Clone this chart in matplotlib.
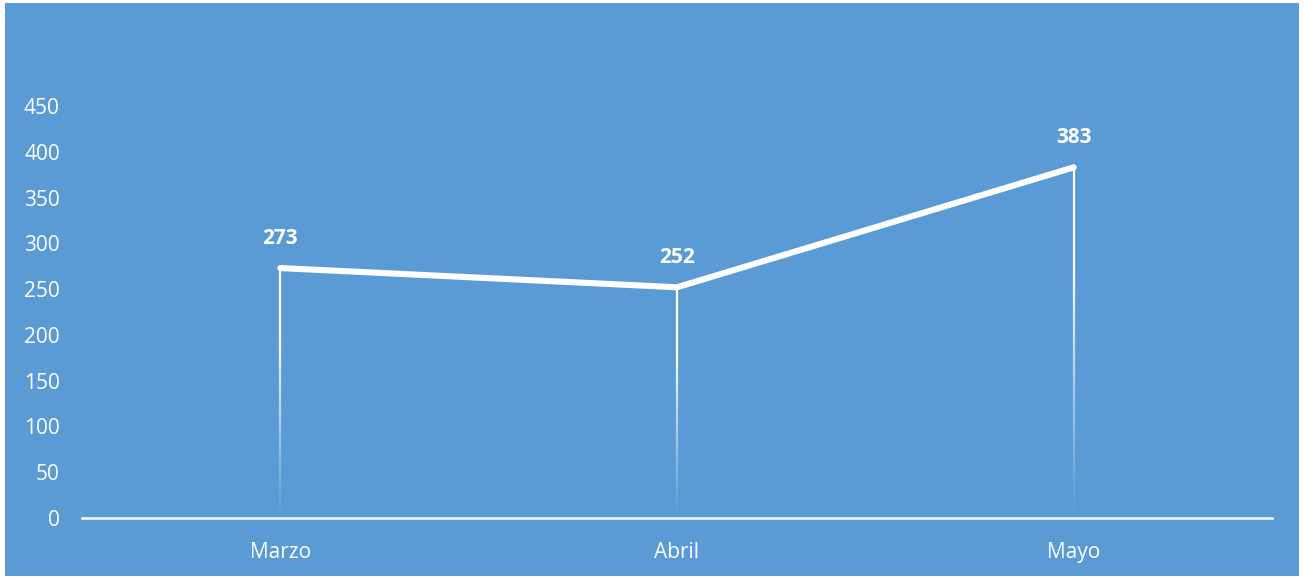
import numpy as np
import matplotlib
matplotlib.use("Agg")
import matplotlib.pyplot as plt
from matplotlib.collections import LineCollection
from matplotlib.patches import Rectangle

categories = ["Marzo", "Abril", "Mayo"]
values = [273, 252, 383]
yticks = [0, 50, 100, 150, 200, 250, 300, 350, 400, 450]

BG = "#5B9BD5"
plt.rcParams['font.family'] = ['Open Sans', 'DejaVu Sans']

fig = plt.figure(figsize=(13.04, 5.79), dpi=100, facecolor="white")
fig.patches.append(Rectangle((5/1304, 3/579), 1294/1304, 573/579, transform=fig.transFigure,
                             facecolor=BG, edgecolor="none", zorder=-10))
ax = fig.add_axes([82/1304, (579-518)/579, (1272-82)/1304, (518-106)/579])
ax.set_facecolor(BG)
ax.patch.set_alpha(0)
x = np.arange(len(categories)) + 0.5
ax.set_xlim(0, len(categories))
ax.set_ylim(0, 450)

# drop lines with fading gradient
for xi, v in zip(x, values):
    n = 120
    ys = np.linspace(0, v, n + 1)
    segs = [[(xi, ys[i]), (xi, ys[i + 1])] for i in range(n)]
    alphas = np.clip((ys[:-1] / v) * 1.4, 0, 1) ** 1.1
    cols = [(1, 1, 1, a) for a in alphas]
    ax.add_collection(LineCollection(segs, colors=cols, linewidths=1.6, zorder=2))

ax.plot(x, values, color="white", lw=4.4, solid_capstyle="round", solid_joinstyle="round", zorder=3)

for xi, v in zip(x, values):
    ax.annotate(str(v), (xi, v), xytext=(0, 14), textcoords="offset points", ha="center", va="bottom",
                color="white", fontsize=15, fontweight="bold")

ax.set_yticks(yticks)
ax.set_xticks(x)
ax.set_xticklabels(categories)
ax.tick_params(axis="y", length=0, colors="white", labelsize=15, pad=16)
ax.tick_params(axis="x", length=0, colors="white", labelsize=15, pad=17)
for s in ["top", "right", "left"]:
    ax.spines[s].set_visible(False)
ax.spines["bottom"].set_color("white")
ax.spines["bottom"].set_linewidth(1.8)
ax.spines["bottom"].set_zorder(4)

fig.savefig("out.png", dpi=100, facecolor="white")
